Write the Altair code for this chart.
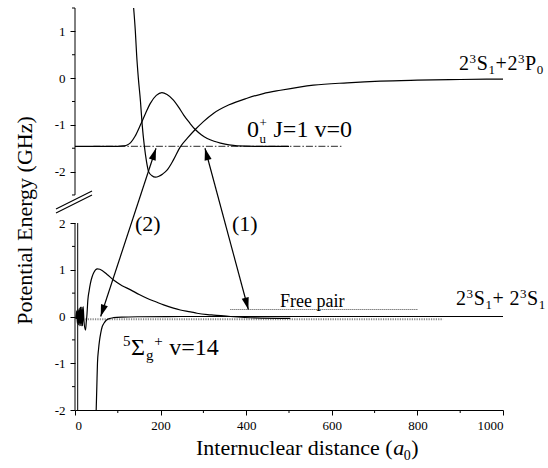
import altair as alt
import pandas as pd
import numpy as np

FONT = "Liberation Serif, Times New Roman, Times, DejaVu Serif, serif"
OFF = 5.1            # upper (0u+) panel is drawn shifted up by OFF GHz
YBOT, YTOP = -2.0, 6.6
W, H = 428, 402
PAD_L, PAD_T = 75, 8
PXX = W / 1000.0
PXY = H / (YTOP - YBOT)

# ---------------- data ----------------
# upper panel: 0u+ potential
u_pot_x = [137, 141, 144, 148, 153, 157, 162, 167, 172, 180, 188, 196, 205, 215, 230, 246, 263, 281,
           300, 324, 360, 402, 440, 480, 557, 636, 713, 800, 900, 1000]
u_pot_y = [1.5, 1.0, 0.5, 0.0, -0.5, -1.0, -1.45, -1.78, -2.0, -2.09, -2.12, -2.1, -2.05, -1.97, -1.75,
           -1.47, -1.28, -1.1, -0.93, -0.75, -0.57, -0.43, -0.33, -0.26, -0.15, -0.1, -0.065, -0.045,
           -0.03, -0.02]
# upper panel: v=0 wavefunction
u_wf_x = [0, 60, 100, 113, 122, 130, 140, 153, 165, 176, 190, 203, 215, 230, 242, 254, 268, 281, 295,
          309, 325, 340, 360, 379, 420, 500]
u_wf_y = [-1.46, -1.46, -1.46, -1.45, -1.43, -1.38, -1.25, -1.0, -0.75, -0.54, -0.37, -0.31, -0.35,
          -0.47, -0.62, -0.79, -0.96, -1.1, -1.21, -1.29, -1.35, -1.39, -1.43, -1.45, -1.46, -1.46]
u_lvl_x = [43, 624]
u_lvl_y = [-1.46, -1.46]

# lower panel: 5Sigma_g+ potential
l_pot_x = [49.5, 51, 52.5, 55, 57.5, 60, 63.5, 68, 73, 80, 90, 110, 150, 250, 1000]
l_pot_y = [-2.0, -1.5, -1.0, -0.7, -0.5, -0.36, -0.22, -0.14, -0.08, -0.045, -0.025, -0.012, -0.005,
           0.0, 0.0]
# lower panel: v=14 wavefunction
l_wf_x = [2, 4, 5.5, 7, 8.5, 10, 11.5, 13, 14.5, 16, 17.5, 19, 21, 24.5, 26.5, 28, 30, 33, 36, 40, 44,
          52, 58, 75, 90, 110, 130, 150, 168, 190, 207, 230, 246, 270, 285, 310, 324, 363, 420, 503]
l_wf_y = [-0.05, 0.12, -0.15, 0.15, -0.18, 0.18, -0.2, 0.2, -0.2, 0.2, -0.2, 0.21, -0.1, -0.29, -0.1,
          0.05, 0.35, 0.55, 0.71, 0.85, 0.94, 1.02, 1.01, 0.9, 0.78, 0.66, 0.57, 0.47, 0.39, 0.31, 0.25,
          0.18, 0.14, 0.1, 0.07, 0.04, 0.03, 0.0, -0.03, -0.04]
l_lvl_x = [13, 860]
l_lvl_y = [-0.06, -0.06]
free_x = [363, 800]
free_y = [0.15, 0.15]

# transition arrows (x in a0, y in plot units: upper = y + OFF)
arr_id = ["1", "1", "2", "2"]
arr_x = [303.7, 405.0, 189.3, 60.0]
arr_y = [-1.5 + OFF, 0.15, -1.5 + OFF, 0.0]

# ticks
x_major = [0, 200, 400, 600, 800, 1000]
x_minor = [100, 300, 500, 700, 900]
y_major_low = [-2, -1, 0, 1, 2]
y_minor_low = [-1.5, -0.5, 0.5, 1.5]
y_major_up = [-2, -1, 0, 1]
y_minor_up = [-2.5, -1.5, -0.5, 0.5, 1.5]

# labels: pieces (text, kind); kind n = normal, sup, sub, subS (sub, no advance), it (italic), gap
lab_0u = [("0", "n"), ("u", "subS"), ("+", "sup"), ("", "gap"), ("J=1 v=0", "n")]
lab_sig = [("5", "sup"), ("\u03a3", "n"), ("g", "sub"), ("+", "sup"), ("", "gap"), ("v=14", "n")]
lab_sp = [("2", "n"), ("3", "sup"), ("S", "n"), ("1", "sub"), ("+", "n"), ("2", "n"), ("3", "sup"),
          ("P", "n"), ("0", "sub")]
lab_ss = [("2", "n"), ("3", "sup"), ("S", "n"), ("1", "sub"), ("+", "n"), ("", "gap"), ("2", "n"),
          ("3", "sup"), ("S", "n"), ("1", "sub")]
lab_xt = [("Internuclear distance (", "n"), ("a", "it"), ("0", "sub"), (")", "n")]
lab_free = [("Free pair", "n")]
lab_2 = [("(2)", "n")]
lab_1 = [("(1)", "n")]

# ---------------- text layout helper (Times advance widths, em) ----------------
EM = {"0": .5, "1": .5, "2": .5, "3": .5, "4": .5, "5": .5, "S": .556, "P": .556, "+": .564, "=": .564,
      " ": .25, "J": .389, "v": .5, "u": .5, "g": .5, "\u03a3": .6, "(": .333, ")": .333, "F": .556,
      "r": .333, "e": .444, "p": .5, "a": .444, "i": .278, "I": .333, "n": .5, "t": .278, "c": .444,
      "l": .278, "d": .5, "s": .389}


def tw(s, size):
    return sum(EM.get(c, .5) for c in s) * size


def layout(spec, x0, base, size, small, up=0.36, down=0.22):
    rows = []
    xp = x0
    for text, kind in spec:
        if kind == "gap":
            xp += 0.25 * size
            continue
        s, dy, st = size, 0.0, "n"
        if kind == "sup":
            s, dy = small, -up * size
        elif kind in ("sub", "subS"):
            s, dy = small, down * size
        elif kind == "it":
            st = "it"
        rows.append({"t": text, "x": (xp - PAD_L) / PXX, "y": YTOP - (base + dy - PAD_T) / PXY,
                     "s": s, "st": st})
        if kind != "subS":
            xp += tw(text, s) + 0.6
    return rows


texts = []
texts += layout(lab_0u, 247, 137, 24, 13, up=0.40, down=0.26)
texts += layout(lab_sig, 123, 355, 24, 15)
texts += layout(lab_sp, 459, 70, 20, 13)
texts += layout(lab_ss, 456, 305, 20, 13)
texts += layout(lab_free, 280, 307, 18, 18)
texts += layout(lab_2, 135, 231, 22, 22)
texts += layout(lab_1, 232, 231, 22, 22)
texts += layout(lab_xt, 196, 455, 22, 14)
tdf = pd.DataFrame(texts)

# axis break marks ("//") and axis lines
brk_id = ["a", "a", "b", "b"]
brk_x = [-44.4, 39.7, -44.4, 39.7]
brk_y = [2.300, 2.685, 2.214, 2.600]
ax_x = [0, 0, 6.3]
ax_y = [-2, -2.5 + OFF, -2]
ax_y2 = [2, 1.5 + OFF, 2]

# ---------------- chart ----------------
xs = alt.Scale(domain=[0, 1000], nice=False, zero=False)
ys = alt.Scale(domain=[YBOT, YTOP], nice=False, zero=False)

v = "(datum.value > 2.3 ? datum.value - 5.1 : datum.value)"
yaxis = alt.Axis(
    values=y_major_low + [a + OFF for a in y_major_up],
    labelExpr=f"(round({v}) < 0 ? '-' : '') + abs(round({v}))",
    domain=False, grid=False, ticks=True, tickSize=5, tickColor="black", tickWidth=1,
    labelFont=FONT, labelFontSize=13, labelColor="black", labelPadding=5,
    title="Potential Energy (GHz)", titleFont=FONT, titleFontSize=22, titleFontWeight="normal",
    titleColor="black", titleX=-44, titleY=212, titleAngle=270, titleAlign="center",
    titleBaseline="alphabetic",
)
xaxis = alt.Axis(
    values=x_major, labelExpr="'' + datum.value", domain=True, domainColor="black", domainWidth=1,
    grid=False, tickSize=5, tickColor="black", tickWidth=1, labelFont=FONT, labelFontSize=13,
    labelColor="black", labelPadding=4, title=None,
)


def X():
    return alt.X("x:Q", scale=xs, axis=xaxis)


def Y():
    return alt.Y("y:Q", scale=ys, axis=yaxis)


def curve(xv, yv, shift=0.0, **kw):
    df = pd.DataFrame({"x": xv, "y": [a + shift for a in yv]})
    style = dict(color="black", strokeWidth=1.2, interpolate="monotone", clip=False)
    style.update(kw)
    return alt.Chart(df).mark_line(**style).encode(x=X(), y=Y())


layers = []
layers.append(curve(l_lvl_x, l_lvl_y, color="#8a8a8a", strokeWidth=2, strokeDash=[1.2, 1.2], interpolate="linear"))
layers.append(curve(free_x, free_y, color="#444444", strokeWidth=1, strokeDash=[1, 1], interpolate="linear"))
layers.append(curve(u_lvl_x, u_lvl_y, OFF, color="#555555", strokeWidth=1.2, strokeDash=[7, 2, 1.5, 2], interpolate="linear"))
layers.append(curve(u_pot_x, u_pot_y, OFF))
layers.append(curve(u_wf_x, u_wf_y, OFF))
layers.append(curve(l_pot_x, l_pot_y))
layers.append(curve(l_wf_x, l_wf_y))

# axis lines (broken y axis)
axdf = pd.DataFrame({"x": ax_x, "y": ax_y, "y2": ax_y2})
layers.append(alt.Chart(axdf).mark_rule(color="black", strokeWidth=1).encode(
    x=X(), y=Y(), y2="y2:Q"))

# minor ticks
ymin = pd.DataFrame({"y": y_minor_low + [a + OFF for a in y_minor_up]})
layers.append(alt.Chart(ymin).mark_rule(color="black", strokeWidth=1).encode(
    x=alt.value(-3), x2=alt.value(0), y=Y()))
xmin = pd.DataFrame({"x": x_minor})
layers.append(alt.Chart(xmin).mark_rule(color="black", strokeWidth=1).encode(
    x=X(), y=alt.value(H), y2=alt.value(H + 3)))

# break marks
bdf = pd.DataFrame({"g": brk_id, "x": brk_x, "y": brk_y})
layers.append(alt.Chart(bdf).mark_line(color="black", strokeWidth=1.2, clip=False).encode(
    x=X(), y=Y(), detail="g:N"))

# arrows
adf = pd.DataFrame({"g": arr_id, "x": arr_x, "y": arr_y})
layers.append(alt.Chart(adf).mark_line(color="black", strokeWidth=1.2, clip=False).encode(
    x=X(), y=Y(), detail="g:N"))
heads = []
for i in range(0, 4, 2):
    for tip, other in ((i, i + 1), (i + 1, i)):
        dx = (arr_x[tip] - arr_x[other]) * PXX
        dy = -(arr_y[tip] - arr_y[other]) * PXY
        ang = np.degrees(np.arctan2(dx, -dy)) % 360
        heads.append({"x": arr_x[tip], "y": arr_y[tip], "a": ang})
hdf = pd.DataFrame(heads)
layers.append(alt.Chart(hdf).mark_point(
    shape="M0,0L0.3,1L-0.3,1Z", filled=True, color="black", opacity=1, size=576, strokeWidth=0,
    clip=False).encode(x=X(), y=Y(), angle=alt.Angle("a:Q", scale=None)))

# texts
layers.append(alt.Chart(tdf[tdf.st == "n"]).mark_text(
    align="left", baseline="alphabetic", font=FONT, color="black").encode(
    x=X(), y=Y(), text="t:N", size=alt.Size("s:Q", scale=None)))
layers.append(alt.Chart(tdf[tdf.st == "it"]).mark_text(
    align="left", baseline="alphabetic", font=FONT, fontStyle="italic", color="black").encode(
    x=X(), y=Y(), text="t:N", size=alt.Size("s:Q", scale=None)))

chart = alt.layer(*layers).properties(
    width=W, height=H,
    autosize=alt.AutoSizeParams(type="none"),
    padding={"left": PAD_L, "top": PAD_T, "right": 548 - PAD_L - W, "bottom": 468 - PAD_T - H},
).configure_view(stroke=None)

chart.save("out.html", embed_options={"renderer": "svg", "actions": False})
